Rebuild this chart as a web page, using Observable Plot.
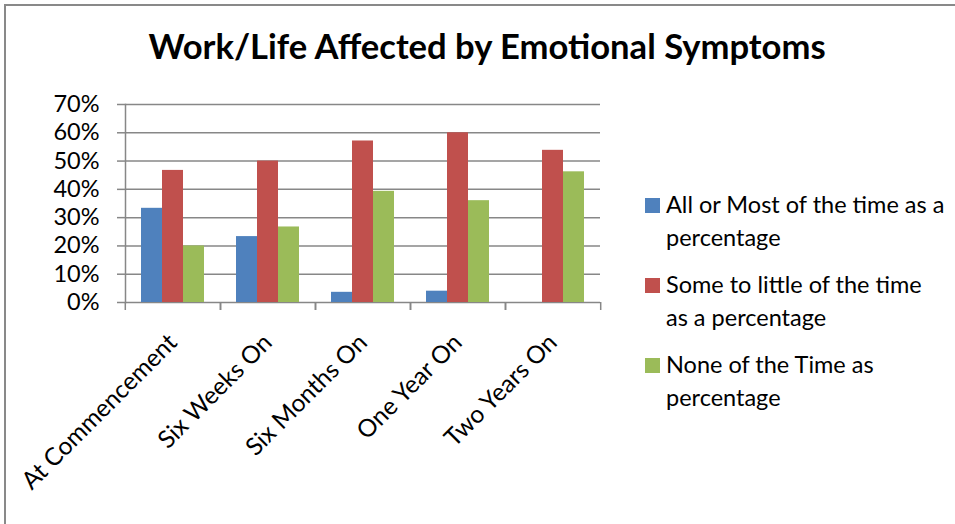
<!DOCTYPE html>
<html><head><meta charset="utf-8">
<script src="https://cdn.jsdelivr.net/npm/d3@7"></script>
<script src="https://cdn.jsdelivr.net/npm/@observablehq/plot@0.6"></script>
<style>
body{margin:0;background:#fff;}
#chart{position:relative;width:955px;height:524px;overflow:hidden;font-family:Lato,sans-serif;color:#000;}
#frame{position:absolute;left:4px;top:4px;width:1000px;height:1000px;border:2px solid #898989;box-sizing:border-box;}
#title{position:absolute;left:0;width:974px;top:25px;text-align:center;font-weight:bold;font-size:34.6px;line-height:42px;}
#plotwrap{position:absolute;left:0;top:0;}
#legend{position:absolute;left:645px;top:188px;}
.item{display:flex;align-items:flex-start;margin-bottom:14px;}
.sw{width:15px;height:15px;margin-top:10px;margin-right:6px;flex:none;}
.lab{width:280px;font-size:23.5px;line-height:33px;}
</style></head><body>
<div id="chart"><div id="frame"></div><div id="plotwrap"></div><div id="title">Work/Life Affected by Emotional Symptoms</div><div id="legend"></div></div>
<script>
const categories = ["At Commencement", "Six Weeks On", "Six Months On", "One Year On", "Two Years On"];
const seriesNames = ["All or Most of the time as a percentage", "Some to little of the time as a percentage", "None of the Time as percentage"];
const allOrMost = [0.333, 0.233, 0.036, 0.04, 0];
const someToLittle = [0.467, 0.50, 0.571, 0.60, 0.538];
const noneOfTime = [0.20, 0.267, 0.393, 0.36, 0.462];
const seriesColors = ["#4F81BD", "#C0504D", "#9BBB59"];
const yTicks = [0, 0.1, 0.2, 0.3, 0.4, 0.5, 0.6, 0.7];

const seriesValues = [allOrMost, someToLittle, noneOfTime];
const data = categories.flatMap((c, i) => seriesValues.map((arr, j) => ({category: c, series: seriesNames[j], value: arr[i]})));

const W = 955, H = 524, mL = 124, mR = 354, mT = 104, mB = 222;
const step = (W - mL - mR) / categories.length;
const axisGray = "#878787";

const plot = Plot.plot({
  width: W, height: H, marginLeft: mL, marginRight: mR, marginTop: mT, marginBottom: mB,
  style: {fontFamily: "Lato, sans-serif", fontSize: "20px", color: "#000", background: "transparent", overflow: "visible"},
  fx: {domain: categories, padding: 0, label: null},
  x: {domain: seriesNames, paddingInner: 0, paddingOuter: 0.75, axis: null},
  y: {domain: [0, 0.7], label: null},
  color: {domain: seriesNames, range: seriesColors},
  marks: [
    Plot.gridY(yTicks, {stroke: axisGray, strokeOpacity: 1, strokeWidth: 1.5}),
    Plot.barY(data, {fx: "category", x: "series", y: "value", fill: "series"}),
    Plot.frame({anchor: "left", facetAnchor: "left", stroke: axisGray, strokeWidth: 1.5}),
    Plot.axisY(yTicks, {tickFormat: d3.format(".0%"), tickSize: 8, tickPadding: 18, stroke: axisGray, strokeWidth: 1.5, strokeOpacity: 1, fill: "#000", fontSize: 23.5, label: null}),
    Plot.axisFx({anchor: "bottom", text: null, tickSize: 8, dx: -step / 2, stroke: axisGray, strokeWidth: 1.5, strokeOpacity: 1, label: null}),
    Plot.axisFx({anchor: "bottom", text: null, tickSize: 8, dx: step / 2, stroke: axisGray, strokeWidth: 1.5, strokeOpacity: 1, label: null}),
    Plot.axisFx({anchor: "bottom", tickSize: 0, tickRotate: -45, tickPadding: 36, dx: 0, fontSize: 24.5, fill: "#000", label: null})
  ]
});
document.getElementById("plotwrap").appendChild(plot);

const color = plot.scale("color");
const legend = document.getElementById("legend");
color.domain.forEach((name, i) => {
  const item = document.createElement("div");
  item.className = "item";
  const sw = document.createElement("div");
  sw.className = "sw";
  sw.style.background = color.range[i];
  const lab = document.createElement("div");
  lab.className = "lab";
  lab.textContent = name;
  item.appendChild(sw); item.appendChild(lab);
  legend.appendChild(item);
});
</script>
</body></html>
